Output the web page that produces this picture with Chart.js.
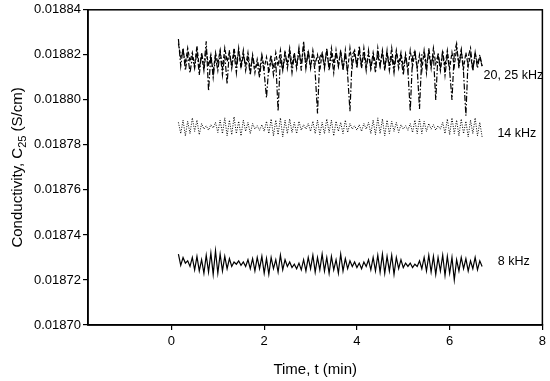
<!DOCTYPE html>
<html>
<head>
<meta charset="utf-8">
<script src="https://cdn.jsdelivr.net/npm/chart.js@4.4.1/dist/chart.umd.min.js"></script>
<style>
  html, body { margin: 0; padding: 0; background: #fff; }
  #wrap { width: 550px; height: 381px; }
</style>
</head>
<body>
<div id="wrap"><canvas id="myChart" width="550" height="381"></canvas></div>
<script>
// Sampling times (min)
var times = [
    0.15, 0.20, 0.25, 0.30, 0.35, 0.40, 0.45, 0.50, 0.55, 0.60,
    0.65, 0.70, 0.75, 0.80, 0.85, 0.90, 0.95, 1.00, 1.05, 1.10,
    1.15, 1.20, 1.25, 1.30, 1.35, 1.40, 1.45, 1.50, 1.55, 1.60,
    1.65, 1.70, 1.75, 1.80, 1.85, 1.90, 1.95, 2.00, 2.05, 2.10,
    2.15, 2.20, 2.25, 2.30, 2.35, 2.40, 2.45, 2.50, 2.55, 2.60,
    2.65, 2.70, 2.75, 2.80, 2.85, 2.90, 2.95, 3.00, 3.05, 3.10,
    3.15, 3.20, 3.25, 3.30, 3.35, 3.40, 3.45, 3.50, 3.55, 3.60,
    3.65, 3.70, 3.75, 3.80, 3.85, 3.90, 3.95, 4.00, 4.05, 4.10,
    4.15, 4.20, 4.25, 4.30, 4.35, 4.40, 4.45, 4.50, 4.55, 4.60,
    4.65, 4.70, 4.75, 4.80, 4.85, 4.90, 4.95, 5.00, 5.05, 5.10,
    5.15, 5.20, 5.25, 5.30, 5.35, 5.40, 5.45, 5.50, 5.55, 5.60,
    5.65, 5.70, 5.75, 5.80, 5.85, 5.90, 5.95, 6.00, 6.05, 6.10,
    6.15, 6.20, 6.25, 6.30, 6.35, 6.40, 6.45, 6.50, 6.55, 6.60,
    6.65, 6.70
];

// Conductivity C25 (S/cm) per frequency
var c8kHz = [
    0.0187315, 0.0187265, 0.0187300, 0.0187275, 0.0187285, 0.0187260, 0.0187300, 0.0187245, 0.0187305, 0.0187240,
    0.0187290, 0.0187230, 0.0187310, 0.0187235, 0.0187320, 0.0187225, 0.0187330, 0.0187230, 0.0187315, 0.0187240,
    0.0187305, 0.0187250, 0.0187295, 0.0187260, 0.0187280, 0.0187270, 0.0187285, 0.0187265, 0.0187280, 0.0187260,
    0.0187290, 0.0187250, 0.0187295, 0.0187240, 0.0187300, 0.0187250, 0.0187305, 0.0187230, 0.0187295, 0.0187225,
    0.0187300, 0.0187250, 0.0187290, 0.0187235, 0.0187310, 0.0187245, 0.0187290, 0.0187260, 0.0187280, 0.0187255,
    0.0187270, 0.0187250, 0.0187275, 0.0187245, 0.0187290, 0.0187240, 0.0187300, 0.0187250, 0.0187310, 0.0187235,
    0.0187300, 0.0187245, 0.0187315, 0.0187240, 0.0187300, 0.0187230, 0.0187305, 0.0187245, 0.0187290, 0.0187230,
    0.0187315, 0.0187240, 0.0187295, 0.0187250, 0.0187285, 0.0187260, 0.0187280, 0.0187255, 0.0187275, 0.0187250,
    0.0187280, 0.0187260, 0.0187290, 0.0187245, 0.0187300, 0.0187240, 0.0187310, 0.0187235, 0.0187315, 0.0187230,
    0.0187305, 0.0187240, 0.0187310, 0.0187225, 0.0187300, 0.0187250, 0.0187290, 0.0187255, 0.0187275, 0.0187260,
    0.0187275, 0.0187255, 0.0187270, 0.0187260, 0.0187285, 0.0187250, 0.0187300, 0.0187240, 0.0187310, 0.0187235,
    0.0187305, 0.0187225, 0.0187300, 0.0187240, 0.0187310, 0.0187220, 0.0187305, 0.0187230, 0.0187300, 0.0187200,
    0.0187290, 0.0187240, 0.0187300, 0.0187250, 0.0187295, 0.0187240, 0.0187285, 0.0187250, 0.0187300, 0.0187245,
    0.0187285, 0.0187260
];

var c14kHz = [
    0.0187900, 0.0187850, 0.0187910, 0.0187840, 0.0187905, 0.0187850, 0.0187920, 0.0187860, 0.0187910, 0.0187845,
    0.0187895, 0.0187870, 0.0187885, 0.0187865, 0.0187890, 0.0187875, 0.0187900, 0.0187855, 0.0187910, 0.0187850,
    0.0187920, 0.0187840, 0.0187910, 0.0187845, 0.0187925, 0.0187850, 0.0187905, 0.0187840, 0.0187910, 0.0187860,
    0.0187900, 0.0187850, 0.0187895, 0.0187870, 0.0187885, 0.0187865, 0.0187890, 0.0187860, 0.0187905, 0.0187850,
    0.0187915, 0.0187840, 0.0187910, 0.0187845, 0.0187920, 0.0187835, 0.0187910, 0.0187850, 0.0187915, 0.0187855,
    0.0187900, 0.0187850, 0.0187905, 0.0187865, 0.0187890, 0.0187870, 0.0187895, 0.0187860, 0.0187905, 0.0187850,
    0.0187910, 0.0187845, 0.0187900, 0.0187850, 0.0187915, 0.0187855, 0.0187910, 0.0187840, 0.0187905, 0.0187860,
    0.0187900, 0.0187850, 0.0187910, 0.0187855, 0.0187895, 0.0187870, 0.0187885, 0.0187865, 0.0187890, 0.0187860,
    0.0187895, 0.0187870, 0.0187900, 0.0187850, 0.0187910, 0.0187845, 0.0187920, 0.0187850, 0.0187915, 0.0187840,
    0.0187910, 0.0187850, 0.0187905, 0.0187860, 0.0187900, 0.0187855, 0.0187890, 0.0187870, 0.0187885, 0.0187865,
    0.0187895, 0.0187855, 0.0187910, 0.0187850, 0.0187915, 0.0187850, 0.0187905, 0.0187860, 0.0187895, 0.0187870,
    0.0187890, 0.0187865, 0.0187885, 0.0187870, 0.0187900, 0.0187850, 0.0187915, 0.0187845, 0.0187920, 0.0187850,
    0.0187910, 0.0187840, 0.0187915, 0.0187850, 0.0187905, 0.0187835, 0.0187910, 0.0187850, 0.0187920, 0.0187840,
    0.0187900, 0.0187835
];

var c20kHz = [
    0.0188250, 0.0188190, 0.0188220, 0.0188160, 0.0188230, 0.0188170, 0.0188210, 0.0188150, 0.0188240, 0.0188140,
    0.0188200, 0.0188130, 0.0188220, 0.0188150, 0.0188200, 0.0188120, 0.0188210, 0.0188160, 0.0188220, 0.0188140,
    0.0188230, 0.0188170, 0.0188210, 0.0188150, 0.0188230, 0.0188160, 0.0188220, 0.0188140, 0.0188200, 0.0188150,
    0.0188210, 0.0188130, 0.0188190, 0.0188120, 0.0188180, 0.0188130, 0.0188200, 0.0188140, 0.0188190, 0.0188120,
    0.0188180, 0.0188140, 0.0188210, 0.0188150, 0.0188220, 0.0188130, 0.0188200, 0.0188160, 0.0188230, 0.0188150,
    0.0188210, 0.0188140, 0.0188220, 0.0188160, 0.0188240, 0.0188150, 0.0188210, 0.0188140, 0.0188220, 0.0188160,
    0.0188200, 0.0188130, 0.0188210, 0.0188150, 0.0188220, 0.0188140, 0.0188230, 0.0188160, 0.0188210, 0.0188150,
    0.0188220, 0.0188140, 0.0188200, 0.0188130, 0.0188230, 0.0188150, 0.0188210, 0.0188160, 0.0188220, 0.0188140,
    0.0188230, 0.0188150, 0.0188200, 0.0188140, 0.0188210, 0.0188160, 0.0188200, 0.0188150, 0.0188220, 0.0188130,
    0.0188210, 0.0188150, 0.0188230, 0.0188140, 0.0188220, 0.0188160, 0.0188210, 0.0188140, 0.0188200, 0.0188130,
    0.0188220, 0.0188150, 0.0188210, 0.0188140, 0.0188200, 0.0188130, 0.0188220, 0.0188150, 0.0188210, 0.0188140,
    0.0188230, 0.0188160, 0.0188200, 0.0188130, 0.0188210, 0.0188150, 0.0188220, 0.0188140, 0.0188210, 0.0188150,
    0.0188230, 0.0188160, 0.0188220, 0.0188140, 0.0188210, 0.0188150, 0.0188200, 0.0188130, 0.0188210, 0.0188160,
    0.0188190, 0.0188150
];

var c25kHz = [
    0.0188270, 0.0188150, 0.0188230, 0.0188130, 0.0188200, 0.0188120, 0.0188190, 0.0188140, 0.0188220, 0.0188110,
    0.0188210, 0.0188150, 0.0188260, 0.0188040, 0.0188200, 0.0188100, 0.0188190, 0.0188130, 0.0188210, 0.0188110,
    0.0188200, 0.0188070, 0.0188220, 0.0188140, 0.0188210, 0.0188120, 0.0188230, 0.0188150, 0.0188220, 0.0188130,
    0.0188190, 0.0188110, 0.0188200, 0.0188140, 0.0188160, 0.0188100, 0.0188190, 0.0188120, 0.0188010, 0.0188150,
    0.0188200, 0.0188110, 0.0188170, 0.0187950, 0.0188190, 0.0188130, 0.0188220, 0.0188140, 0.0188210, 0.0188120,
    0.0188200, 0.0188150, 0.0188230, 0.0188130, 0.0188260, 0.0188140, 0.0188220, 0.0188150, 0.0188200, 0.0188120,
    0.0187940, 0.0188190, 0.0188210, 0.0188140, 0.0188230, 0.0188130, 0.0188200, 0.0188120, 0.0188220, 0.0188150,
    0.0188210, 0.0188130, 0.0188220, 0.0188110, 0.0187950, 0.0188200, 0.0188220, 0.0188140, 0.0188240, 0.0188150,
    0.0188210, 0.0188130, 0.0188220, 0.0188140, 0.0188200, 0.0188120, 0.0188230, 0.0188150, 0.0188210, 0.0188140,
    0.0188220, 0.0188130, 0.0188200, 0.0188120, 0.0188210, 0.0188140, 0.0188190, 0.0188110, 0.0188200, 0.0188130,
    0.0187950, 0.0188190, 0.0188220, 0.0188140, 0.0187960, 0.0188200, 0.0188210, 0.0188120, 0.0188230, 0.0188150,
    0.0188200, 0.0188000, 0.0188210, 0.0188140, 0.0188220, 0.0188110, 0.0188200, 0.0188130, 0.0188000, 0.0188210,
    0.0188250, 0.0188140, 0.0188220, 0.0188120, 0.0187930, 0.0188190, 0.0188230, 0.0188130, 0.0188210, 0.0188140,
    0.0188200, 0.0188150
];

// Axis ticks
var xTicks = [0, 2, 4, 6, 8];
var yTicks = [0.01870, 0.01872, 0.01874, 0.01876, 0.01878, 0.01880, 0.01882, 0.01884];

// Series labels drawn at the right end of each trace
var seriesLabels = ["20, 25 kHz", "14 kHz", "8 kHz"];

function toPoints(ys) {
    return times.map(function (t, i) { return { x: t, y: ys[i] }; });
}

var FONT = "'Liberation Sans', Arial, sans-serif";

// Frame round the plot area, y-axis title with subscript, series labels
var framePlugin = {
    id: "frame",
    afterDraw: function (chart) {
        var ctx = chart.ctx;
        var a = chart.chartArea;
        var xs = chart.scales.x, ys = chart.scales.y;
        ctx.save();
        ctx.strokeStyle = "#000";
        ctx.lineWidth = 1.5;
        ctx.strokeRect(a.left, a.top, a.right - a.left, a.bottom - a.top);

        // y title
        ctx.translate(18, (a.top + a.bottom) / 2);
        ctx.rotate(-Math.PI / 2);
        ctx.fillStyle = "#000";
        ctx.textBaseline = "middle";
        var big = "15px " + FONT, small = "11px " + FONT;
        var p1 = "Conductivity, C", p2 = "25", p3 = " (S/cm)";
        ctx.font = big;
        var w1 = ctx.measureText(p1).width, w3 = ctx.measureText(p3).width;
        ctx.font = small;
        var w2 = ctx.measureText(p2).width;
        var x0 = -(w1 + w2 + w3) / 2;
        ctx.font = big;
        ctx.textAlign = "left";
        ctx.fillText(p1, x0, 0);
        ctx.font = small;
        ctx.fillText(p2, x0 + w1, 5);
        ctx.font = big;
        ctx.fillText(p3, x0 + w1 + w2, 0);
        ctx.restore();

        ctx.save();
        ctx.fillStyle = "#000";
        ctx.font = "12.5px " + FONT;
        ctx.textBaseline = "middle";
        ctx.textAlign = "left";
        ctx.fillText(seriesLabels[0], xs.getPixelForValue(6.73), ys.getPixelForValue(0.018811));
        ctx.fillText(seriesLabels[1], xs.getPixelForValue(7.03), ys.getPixelForValue(0.018785));
        ctx.fillText(seriesLabels[2], xs.getPixelForValue(7.04), ys.getPixelForValue(0.018728));
        ctx.restore();
    }
};

var lineBase = {
    pointRadius: 0,
    borderColor: "#000",
    tension: 0,
    fill: false
};

var chart = new Chart(document.getElementById("myChart").getContext("2d"), {
    type: "line",
    data: {
        datasets: [
            Object.assign({ label: "8 kHz", data: toPoints(c8kHz), borderWidth: 1.2 }, lineBase),
            Object.assign({ label: "14 kHz", data: toPoints(c14kHz), borderWidth: 1, borderDash: [1, 1.5], borderColor: "#222" }, lineBase),
            Object.assign({ label: "20 kHz", data: toPoints(c20kHz), borderWidth: 1.2, borderDash: [4, 2] }, lineBase),
            Object.assign({ label: "25 kHz", data: toPoints(c25kHz), borderWidth: 1.2, borderDash: [6, 2, 1.5, 2] }, lineBase)
        ]
    },
    options: {
        responsive: false,
        animation: false,
        devicePixelRatio: 1,
        layout: { padding: { top: 7, right: 7, left: 0, bottom: 0 } },
        plugins: {
            legend: { display: false },
            tooltip: { enabled: false }
        },
        scales: {
            x: {
                type: "linear",
                min: -1.8,
                max: 8,
                afterBuildTicks: function (scale) {
                    scale.ticks = xTicks.map(function (v) { return { value: v }; });
                },
                afterFit: function (scale) { scale.height = 56; },
                grid: { drawOnChartArea: false, color: "#000", lineWidth: 1.2, tickLength: 5 },
                border: { display: true, color: "#000", width: 1.5 },
                ticks: { color: "#000", font: { size: 13, family: FONT }, padding: 4, maxRotation: 0 },
                title: { display: true, text: "Time, t (min)", color: "#000", font: { size: 15, family: FONT }, padding: { top: 0, bottom: 2 } }
            },
            y: {
                type: "linear",
                min: 0.01870,
                max: 0.01884,
                afterBuildTicks: function (scale) {
                    scale.ticks = yTicks.map(function (v) { return { value: v }; });
                },
                afterFit: function (scale) { scale.width = 88; },
                grid: { drawOnChartArea: false, color: "#000", lineWidth: 1.2, tickLength: 5 },
                border: { display: true, color: "#000", width: 1.5 },
                ticks: {
                    color: "#000",
                    font: { size: 13, family: FONT },
                    padding: 2,
                    callback: function (v) { return Number(v).toFixed(5); }
                }
            }
        }
    },
    plugins: [framePlugin]
});
</script>
</body>
</html>
